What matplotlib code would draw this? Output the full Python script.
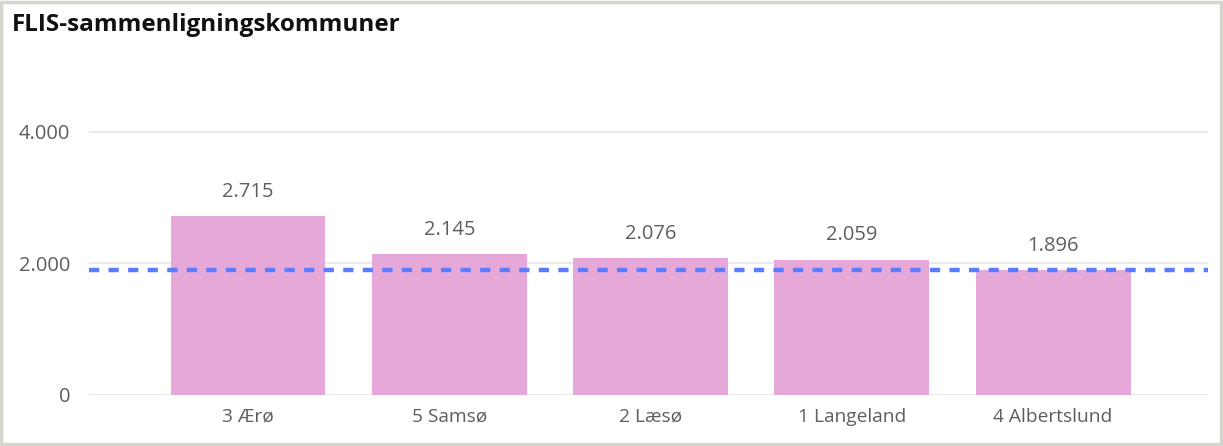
import matplotlib
matplotlib.use("Agg")
import matplotlib.pyplot as plt
from matplotlib.patches import Rectangle

# data
kommuner = ["3 Ærø", "5 Samsø", "2 Læsø", "1 Langeland", "4 Albertslund"]
vaerdier = [2715, 2145, 2076, 2059, 1896]
ref_linje = 1896
yticks = [0, 2000, 4000]
ytick_labels = ["0", "2.000", "4.000"]

plt.rcParams['font.family'] = ['Open Sans', 'DejaVu Sans']

W, H = 1223, 446
fig = plt.figure(figsize=(W / 100, H / 100), dpi=100)
fig.patch.set_facecolor("white")

# outer frame of the visual
fig.add_artist(Rectangle((1 / W, 2 / H), (W - 3) / W, (H - 4) / H, transform=fig.transFigure,
                         fill=False, edgecolor="#D6D6CE", linewidth=2.5))

ax = fig.add_axes([89 / W, (H - 395) / H, (1208 - 89) / W, (395 - 66) / H])
x = list(range(len(kommuner)))
ax.bar(x, vaerdier, width=0.77, color="#E6A8D9", zorder=2)
ax.axhline(ref_linje, color="#5B7CFF", linewidth=3.2, linestyle=(0, (2.3, 2.1)), zorder=3)

for xi, v in zip(x, vaerdier):
    ax.annotate(f"{v:,}".replace(",", "."), (xi, v), xytext=(0, 17.5), textcoords="offset points",
                ha="center", va="center", fontsize=14.5, color="#605E5C")

ax.set_xlim(-0.79, 4.77)
ax.set_ylim(0, 5000)
ax.set_yticks(yticks)
ax.set_yticklabels(ytick_labels)
ax.set_xticks(x)
ax.set_xticklabels(kommuner)
ax.tick_params(length=0, labelcolor="#605E5C")
ax.tick_params(axis="y", pad=13.5, labelsize=14.5)
ax.tick_params(axis="x", pad=9, labelsize=13.8)
ax.grid(axis="y", color="#E6E6E6", linewidth=1.2, zorder=0)
for s in ax.spines.values():
    s.set_visible(False)

fig.text(12 / W, 1 - 25 / H, "FLIS-sammenligningskommuner", fontsize=17.5, fontweight="bold",
         color="#111111", ha="left", va="center")

fig.savefig("out.png", dpi=100)
